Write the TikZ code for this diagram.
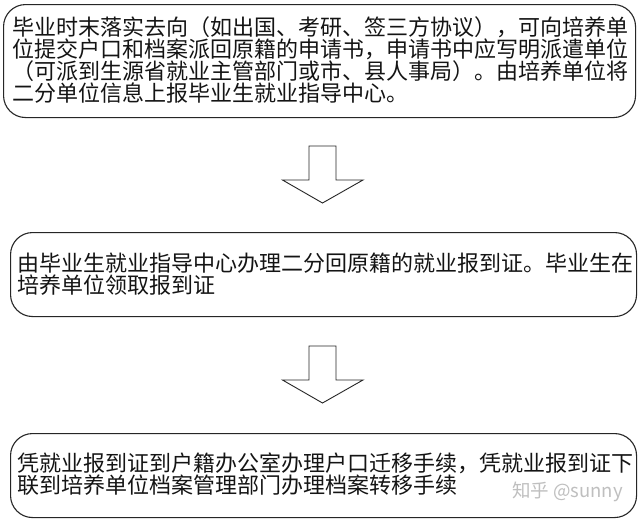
\documentclass[tikz,border=0pt]{standalone}
\usepackage{fontspec}
\newfontfamily\cjk{Noto Sans CJK SC}
\begin{document}
\begin{tikzpicture}[x=1pt,y=-1pt,
  stepbox/.style={draw=black!85, line width=1.1pt, rounded corners=22pt, anchor=north west, inner sep=0pt},
  txt/.style={anchor=north west, inner sep=0pt, align=left, text=black!92, font={\cjk\fontsize{22}{20.5}\selectfont}},
  blockarrow/.style={draw=black!85, line width=0.9pt, fill=white, line join=miter},
  wm/.style={inner sep=0pt, text=black!25, font={\cjk\fontsize{18.5}{20}\selectfont}}]
\useasboundingbox[fill=white] (0,0) rectangle (640,522);

% boxes
\node[stepbox, minimum width=632pt, minimum height=113pt] (b1) at (3,4) {};
\node[stepbox, minimum width=626pt, minimum height=84pt] (b2) at (10,232) {};
\node[stepbox, minimum width=626pt, minimum height=84pt] (b3) at (10,433) {};

% texts
\node[txt] (t1) at (12,16) {毕业时末落实去向（如出国、考研、签三方协议），可向培养单\\位提交户口和档案派回原籍的申请书，申请书中应写明派遣单位\\（可派到生源省就业主管部门或市、县人事局）。由培养单位将\\二分单位信息上报毕业生就业指导中心。};
\node[txt] (t2) at (17,253) {由毕业生就业指导中心办理二分回原籍的就业报到证。毕业生在\\培养单位领取报到证};
\node[txt] (t3) at (17,453) {凭就业报到证到户籍办公室办理户口迁移手续，凭就业报到证下\\联到培养单位档案管理部门办理档案转移手续};

% block arrows
\coordinate (a1) at (322.5,146);
\coordinate (a2) at (322.5,346);
\draw[blockarrow] (a1) ++(-13.5,0) -- ++(27,0) -- ++(0,34) -- ++(27,0) -- ++(-40.5,23) -- ++(-40,-23) -- ++(26.5,0) -- cycle;
\draw[blockarrow] (a2) ++(-13.5,0) -- ++(27,0) -- ++(0,34) -- ++(27,0) -- ++(-40.5,23) -- ++(-40,-23) -- ++(26.5,0) -- cycle;

% watermark
\node[wm, anchor=base east] (wm) at (623,497) {知乎 @sunny};
\end{tikzpicture}
\end{document}
